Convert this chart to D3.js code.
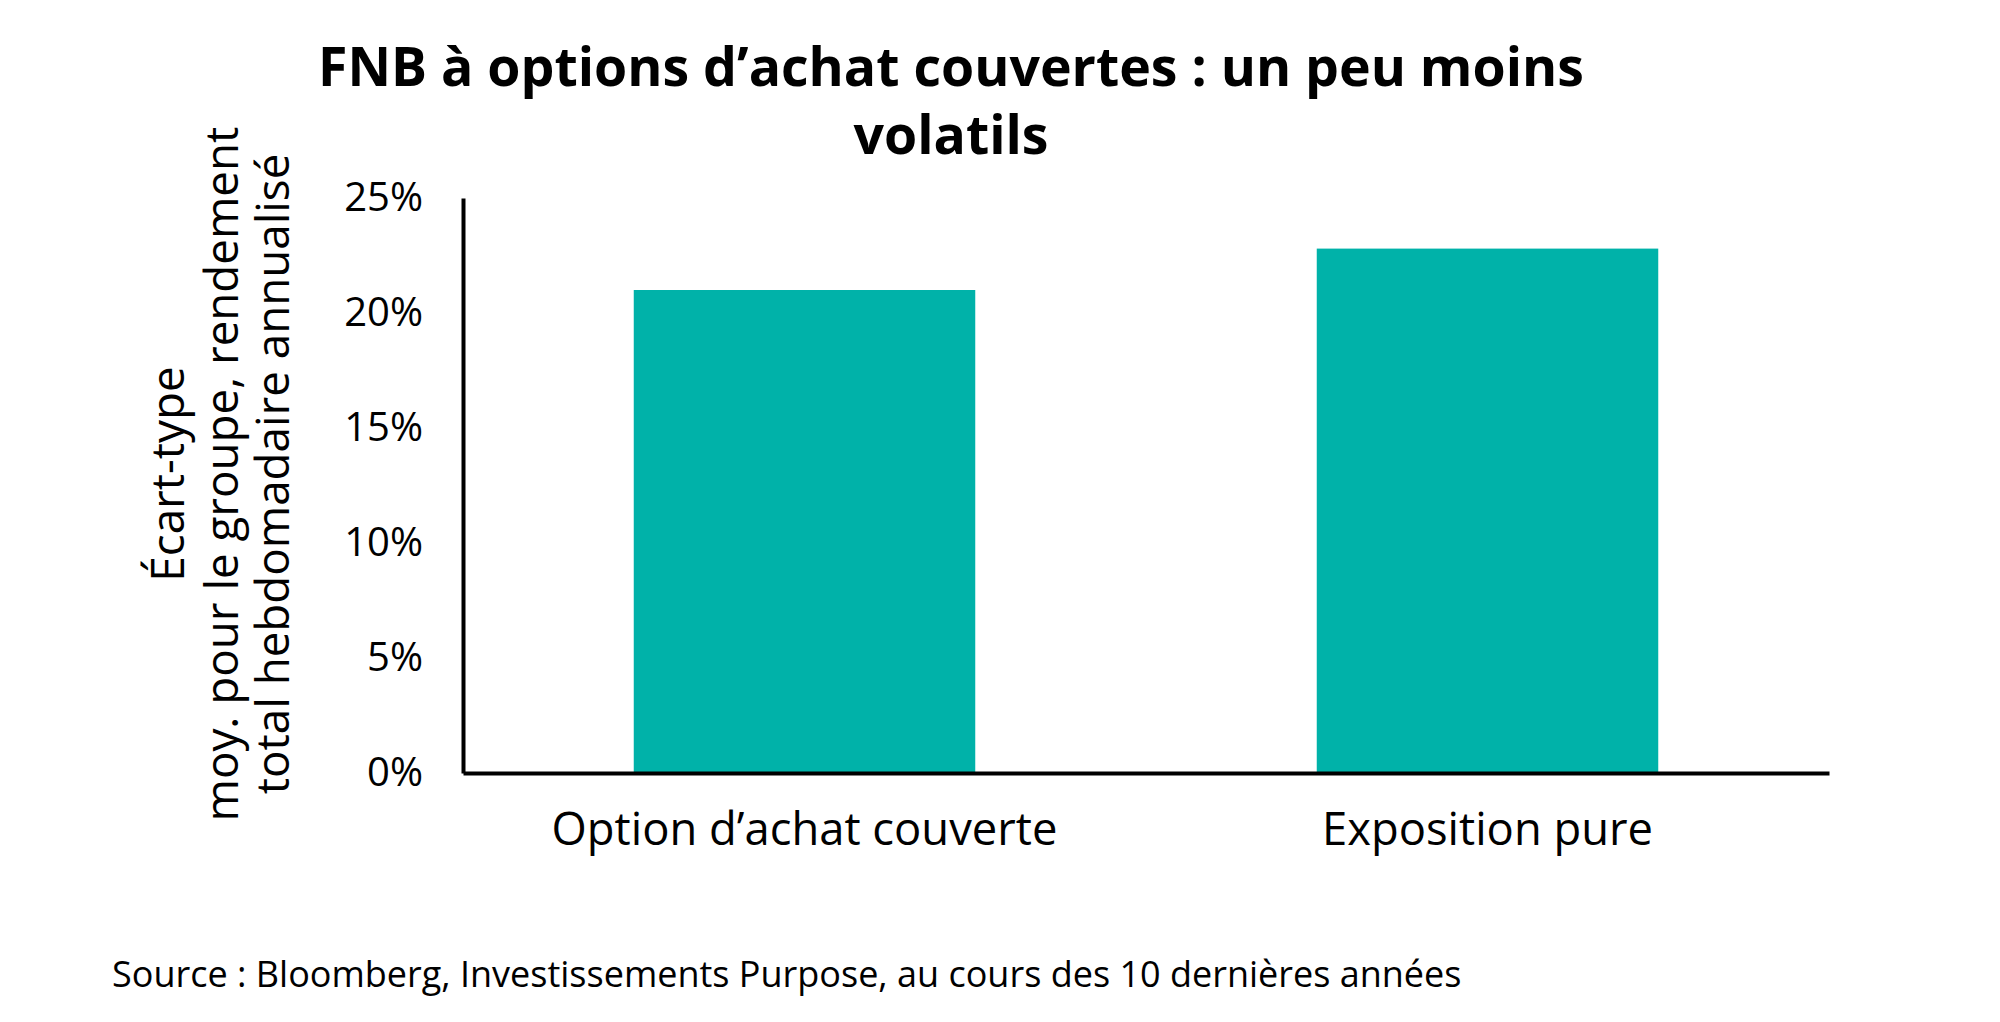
<!DOCTYPE html>
<html>
<head>
<meta charset="utf-8">
<script src="https://cdn.jsdelivr.net/npm/d3@7"></script>
<style>
  body { margin: 0; background: #fff; }
  svg text { font-family: "Open Sans", "Noto Sans", sans-serif; fill: #000; }
</style>
</head>
<body>
<div id="chart"></div>
<script>
// chart data
const categories = ["Option d’achat couverte", "Exposition pure"];
const values = [0.210, 0.228];
const yTicks = [0, 0.05, 0.10, 0.15, 0.20, 0.25];
const titleLines = ["FNB à options d’achat couvertes : un peu moins", "volatils"];
const yTitleLines = ["Écart-type", "moy. pour le groupe, rendement", "total hebdomadaire annualisé"];
const sourceText = "Source : Bloomberg, Investissements Purpose, au cours des 10 dernières années";

const width = 2000;
const height = 1022;
const margin = { top: 198, right: 171, bottom: 249, left: 463 };

const svg = d3.select("#chart")
  .append("svg")
  .attr("width", width)
  .attr("height", height);

// fit a text element to a target width by changing its font size
function fitWidth(sel, target) {
  const size = parseFloat(sel.attr("font-size"));
  const len = sel.node().getComputedTextLength();
  const s = size * target / len;
  sel.attr("font-size", s);
  return s;
}

// scales
const x = d3.scaleBand()
  .domain(categories)
  .range([margin.left, width - margin.right])
  .paddingInner(0.5)
  .paddingOuter(0.25);

const y = d3.scaleLinear()
  .domain([0, 0.25])
  .range([height - margin.bottom, margin.top]);

// bars
svg.selectAll(".bar")
  .data(values)
  .enter()
  .append("rect")
  .attr("class", "bar")
  .attr("x", (d, i) => x(categories[i]))
  .attr("y", d => y(d))
  .attr("width", x.bandwidth())
  .attr("height", d => y(0) - y(d))
  .attr("fill", "#00b2a9");

// y axis
const yAxis = svg.append("g")
  .attr("transform", `translate(${margin.left},0)`)
  .call(d3.axisLeft(y).tickValues(yTicks).tickFormat(d3.format(".0%")).tickSize(0).tickSizeOuter(0).tickPadding(40));
yAxis.select(".domain").attr("stroke", "#000").attr("stroke-width", 4);
yAxis.selectAll("text").attr("font-size", 40).attr("font-family", null);

// x axis
const xAxis = svg.append("g")
  .attr("transform", `translate(0,${y(0)})`)
  .call(d3.axisBottom(x).tickSize(0).tickSizeOuter(0).tickPadding(40));
xAxis.select(".domain").attr("stroke", "#000").attr("stroke-width", 4);
const xLabels = xAxis.selectAll("text").attr("font-size", 40).attr("font-family", null);
const xSize = fitWidth(d3.select(xLabels.nodes()[0]), 506);
xLabels.attr("font-size", xSize);

// title, two lines
const titleY = [86, 154];
const title = svg.selectAll(".title")
  .data(titleLines)
  .enter()
  .append("text")
  .attr("class", "title")
  .attr("x", 951)
  .attr("y", (d, i) => titleY[i])
  .attr("text-anchor", "middle")
  .attr("font-weight", "bold")
  .attr("font-size", 47)
  .text(d => d);
const tSize = fitWidth(d3.select(title.nodes()[0]), 1266);
title.attr("font-size", tSize);

// y axis title, three rotated lines
const yLineX = [184, 238, 289];
const yt = svg.selectAll(".ytitle")
  .data(yTitleLines)
  .enter()
  .append("text")
  .attr("class", "ytitle")
  .attr("text-anchor", "middle")
  .attr("font-size", 42)
  .attr("transform", (d, i) => `translate(${yLineX[i]},474) rotate(-90)`)
  .text(d => d);
const ySize = fitWidth(d3.select(yt.nodes()[1]), 695);
yt.attr("font-size", ySize);

// source note
const src = svg.append("text")
  .attr("x", 112).attr("y", 987)
  .attr("font-size", 34)
  .text(sourceText);
fitWidth(src, 1350);
</script>
</body>
</html>
